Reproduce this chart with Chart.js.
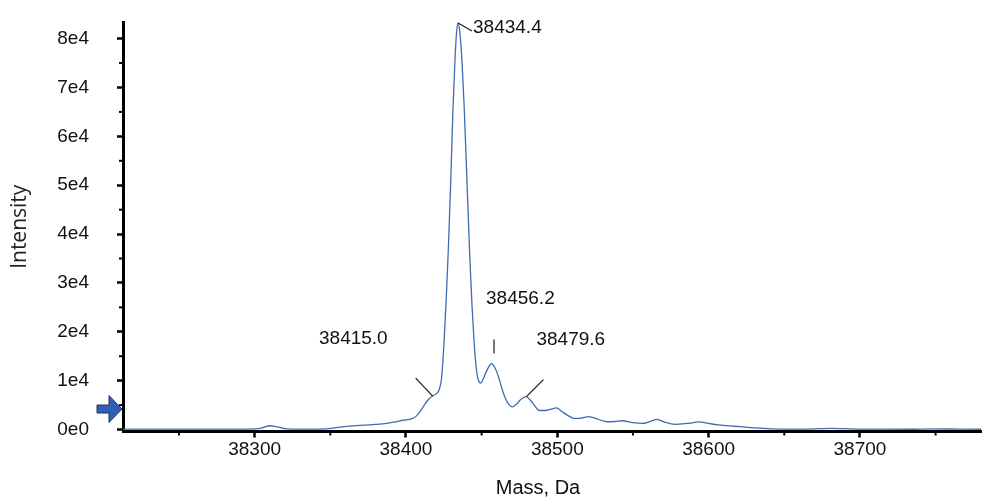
<!DOCTYPE html>
<html>
<head>
<meta charset="utf-8">
<script src="https://cdn.jsdelivr.net/npm/chart.js@4.4.1/dist/chart.umd.min.js"></script>
<style>
  html, body { margin: 0; padding: 0; background: #ffffff; }
  #wrap { width: 985px; height: 504px; position: relative; }
</style>
</head>
<body>
<div id="wrap"><canvas id="c" width="985" height="504"></canvas></div>
<script>
// ---------- data ----------
const massDa = [
  38213, 38250, 38290, 38300, 38305, 38310, 38315, 38320, 38330, 38343,
  38352, 38361, 38372, 38383, 38392, 38398, 38404, 38407, 38410, 38412.5,
  38415, 38417.5, 38420, 38422, 38423.5, 38425, 38426.5, 38428, 38429.5, 38431,
  38432.5, 38433.5, 38434.4, 38435.7, 38437, 38438.4, 38439.7, 38441, 38442.3, 38443.7,
  38445, 38446.3, 38447.5, 38449.3, 38451, 38453, 38455, 38456.5, 38458, 38460,
  38462, 38464, 38466, 38468, 38470.3, 38473, 38476, 38479.3, 38482, 38485,
  38488, 38492, 38496, 38499.5, 38503, 38506.6, 38511, 38515, 38521, 38527,
  38533, 38538, 38543, 38550, 38556, 38561, 38566, 38571, 38578, 38586,
  38593.7, 38600, 38606, 38614, 38621, 38630, 38641, 38655, 38667, 38681,
  38690, 38700, 38715, 38732, 38749, 38765, 38780
];
const intensity = [
  80, 80, 100, 150, 350, 780, 550, 200, 80, 100,
  300, 650, 900, 1100, 1500, 1900, 2250, 2800, 4000, 5200,
  6200, 6850, 7300, 8200, 10500, 17000, 26000, 37000, 50000, 65000,
  76500, 81500, 83200, 81000, 75500, 66500, 56000, 45000, 34500, 25000,
  18000, 13000, 10500, 9500, 10300, 11800, 13000, 13500, 13100, 11800,
  9900, 7800, 6200, 5100, 4650, 5200, 6200, 6750, 6100, 4900,
  3900, 3900, 4200, 4450, 3700, 2950, 2300, 2300, 2650, 2100,
  1600, 1650, 1800, 1400, 1250, 1600, 2100, 1500, 1050, 1250,
  1550, 1250, 950, 750, 580, 350, 150, 80, 100, 250,
  180, 100, 80, 60, 150, 80, 60
];
const xTickValues = [38300, 38400, 38500, 38600, 38700];
const xMinorTickValues = [38250, 38350, 38450, 38550, 38650, 38750];
const yTickValues = [0, 10000, 20000, 30000, 40000, 50000, 60000, 70000, 80000];
const yMinorTickValues = [5000, 15000, 25000, 35000, 45000, 55000, 65000, 75000];
const peakMass = [38415.0, 38434.4, 38456.2, 38479.6];
const peakLabel = ['38415.0', '38434.4', '38456.2', '38479.6'];
const peakLevel = [6850, 83200, 13500, 6750];
const thresholdLevel = [4200];
const xTitle = 'Mass, Da';
const yTitle = 'Intensity';

// ---------- styling / layout (not data) ----------
const TICK_FONT = { family: "'Liberation Sans', Arial, sans-serif", size: 19 };
const annotStyle = [
  { line: [4, 0, -13, -18], text: [-41, -57], align: 'right' },
  { line: [0, 0, 14, 8], text: [15, 5], align: 'left' },
  { line: [3, -10, 3, -24], text: [-5, -64.5], align: 'left' },
  { line: [0, 0, 17, -17], text: [10, -56.5], align: 'left' }
];

const extras = {
  id: 'extras',
  afterDraw(chart) {
    const ctx = chart.ctx;
    const xs = chart.scales.x, ys = chart.scales.y;
    const ca = chart.chartArea;
    ctx.save();
    // minor ticks
    ctx.strokeStyle = '#000';
    ctx.lineWidth = 2;
    xMinorTickValues.forEach(v => {
      const px = xs.getPixelForValue(v);
      ctx.beginPath(); ctx.moveTo(px, ca.bottom + 1); ctx.lineTo(px, ca.bottom + 4); ctx.stroke();
    });
    yMinorTickValues.forEach(v => {
      const py = ys.getPixelForValue(v);
      ctx.beginPath(); ctx.moveTo(ca.left - 1, py); ctx.lineTo(ca.left - 4, py); ctx.stroke();
    });
    // peak annotations
    ctx.font = `${TICK_FONT.size}px ${TICK_FONT.family}`;
    ctx.fillStyle = '#111';
    ctx.textBaseline = 'middle';
    peakMass.forEach((m, i) => {
      const ax = xs.getPixelForValue(m), ay = ys.getPixelForValue(peakLevel[i]);
      const st = annotStyle[i];
      ctx.strokeStyle = '#1a1a1a';
      ctx.lineWidth = 1.2;
      ctx.beginPath();
      ctx.moveTo(ax + st.line[0], ay + st.line[1]);
      ctx.lineTo(ax + st.line[2], ay + st.line[3]);
      ctx.stroke();
      ctx.textAlign = st.align;
      ctx.fillText(peakLabel[i], ax + st.text[0], ay + st.text[1]);
    });
    // threshold arrow
    thresholdLevel.forEach(v => {
      const ty = ys.getPixelForValue(v);
      const tx = ca.left - 1;
      ctx.beginPath();
      ctx.moveTo(tx, ty);
      ctx.lineTo(tx - 13, ty - 13.5);
      ctx.lineTo(tx - 13, ty - 4);
      ctx.lineTo(tx - 25, ty - 4);
      ctx.lineTo(tx - 25, ty + 4);
      ctx.lineTo(tx - 13, ty + 4);
      ctx.lineTo(tx - 13, ty + 13.5);
      ctx.closePath();
      ctx.fillStyle = '#2f5fae';
      ctx.fill();
      ctx.strokeStyle = '#1c3566';
      ctx.lineWidth = 1;
      ctx.stroke();
    });
    // x-axis title
    ctx.font = `20px ${TICK_FONT.family}`;
    ctx.fillStyle = '#111';
    ctx.textAlign = 'center';
    ctx.textBaseline = 'middle';
    ctx.fillText(xTitle, (ca.left + ca.right) / 2 - 14, 488);
    ctx.restore();
  }
};

new Chart(document.getElementById('c'), {
  type: 'line',
  data: {
    datasets: [{
      data: massDa.map((m, i) => ({ x: m, y: intensity[i] })),
      borderColor: '#3f6cb0',
      borderWidth: 1.3,
      pointRadius: 0,
      fill: false,
      cubicInterpolationMode: 'monotone'
    }]
  },
  options: {
    responsive: false,
    animation: false,
    layout: { padding: { top: 22, right: 4, left: 0, bottom: 0 } },
    plugins: { legend: { display: false }, tooltip: { enabled: false } },
    scales: {
      x: {
        type: 'linear',
        min: 38213,
        max: 38780,
        afterBuildTicks: s => { s.ticks = xTickValues.map(v => ({ value: v })); },
        afterFit: s => { s.height = 72.5; s.paddingLeft = 0; s.paddingRight = 0; },
        ticks: {
          font: TICK_FONT, color: '#111', padding: 1,
          maxRotation: 0, autoSkip: false,
          callback: v => String(v)
        },
        grid: { drawOnChartArea: false, drawTicks: true, tickLength: 6, tickWidth: 2.5, tickColor: '#000' },
        border: { display: true, color: '#000', width: 3 },
        title: { display: false }
      },
      y: {
        type: 'linear',
        min: -400,
        max: 83400,
        afterBuildTicks: s => { s.ticks = yTickValues.map(v => ({ value: v })); },
        afterFit: s => { s.width = 123; s.paddingTop = 0; s.paddingBottom = 0; },
        ticks: {
          font: TICK_FONT, color: '#111', padding: 28, autoSkip: false,
          callback: v => v === 0 ? '0e0' : (v / 10000) + 'e4'
        },
        grid: { drawOnChartArea: false, drawTicks: true, tickLength: 6, tickWidth: 2.5, tickColor: '#000' },
        border: { display: true, color: '#000', width: 3 },
        title: {
          display: true, text: yTitle, color: '#222',
          font: { family: "'Open Sans', sans-serif", size: 21 },
          padding: { top: 7.5, bottom: 0 }
        }
      }
    }
  },
  plugins: [extras]
});
</script>
</body>
</html>
